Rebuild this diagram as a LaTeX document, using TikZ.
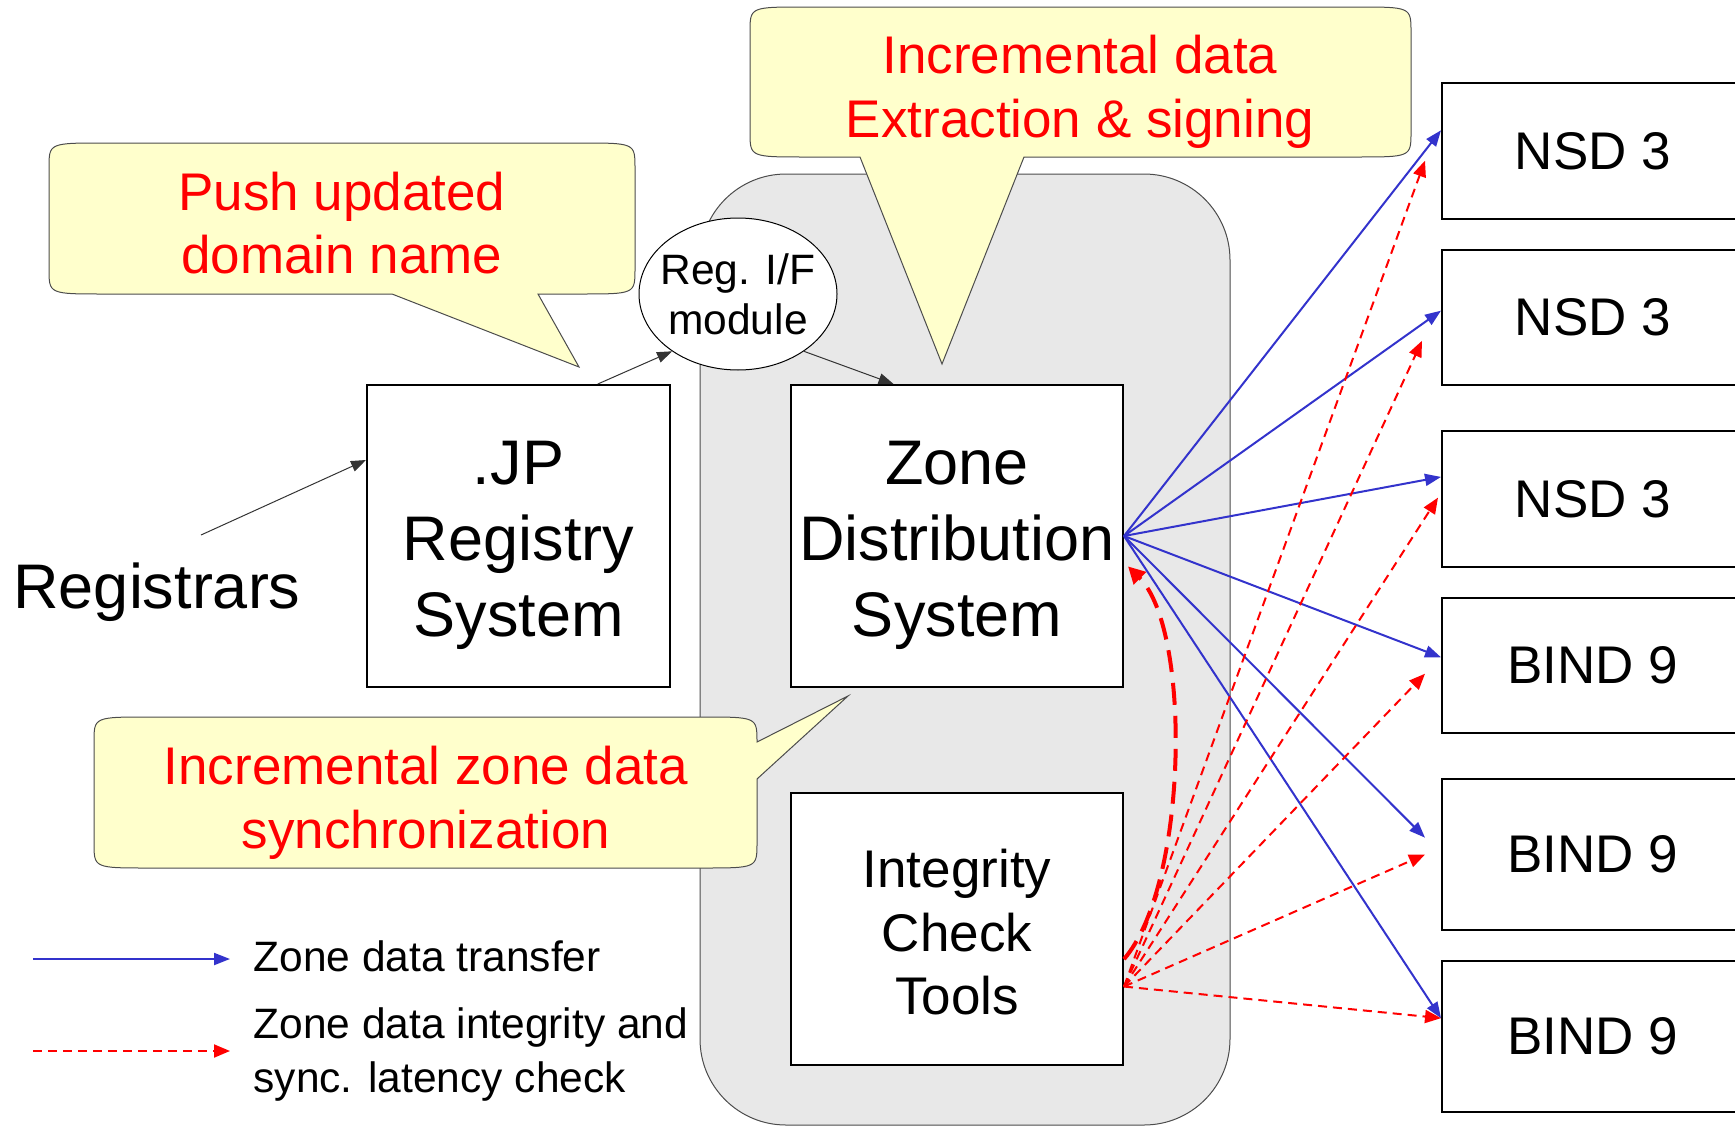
\documentclass[tikz,border=0pt]{standalone}
\usepackage{fontspec}
\setmainfont{Liberation Sans}
\usetikzlibrary{arrows.meta,shapes.geometric,calc}
\definecolor{callfill}{HTML}{FFFFCC}
\definecolor{grayfill}{HTML}{E8E8E8}
\definecolor{bluearr}{HTML}{3333CC}
\definecolor{redtxt}{HTML}{FF0000}
\begin{document}
\begin{tikzpicture}[x=1pt,y=-1pt,
  bigtxt/.style={font=\fontsize{63}{76}\selectfont},
  midtxt/.style={font=\fontsize{53}{63.5}\selectfont},
  smalltxt/.style={font=\fontsize{42.5}{50}\selectfont},
  sysbox/.style={draw=black,line width=2pt,fill=white,inner sep=0pt,align=center},
  srvbox/.style={sysbox,midtxt,anchor=north west,minimum width=302pt},
  callout/.style={fill=callfill,draw=black!70,line width=1pt},
  calltxt/.style={midtxt,text=redtxt,align=center},
  blk/.style={draw=black!80,line width=1pt,-{Triangle[length=15pt,width=11pt]}},
  blu/.style={draw=bluearr,line width=2pt,-{Triangle[length=16pt,width=12pt]}},
  rdd/.style={draw=red,line width=2pt,dash pattern=on 9pt off 6pt,-{Triangle[length=16pt,width=13pt]}},
  rthick/.style={draw=red,line width=4pt,dash pattern=on 22pt off 11pt,-{Triangle[length=17pt,width=17pt]}}
]
\useasboundingbox (0,0) rectangle (1735,1127);
\clip (0,0) rectangle (1735,1127);

% gray system area
\draw[fill=grayfill,draw=black!70,line width=1pt,rounded corners=86pt] (700,174) rectangle (1230,1125);

% callout 1
\path[callout] (805,7) -- (1356,7) .. controls (1411,7) .. (1411,32) -- (1411,132)
  .. controls (1411,157) .. (1356,157) -- (1024,157) -- (942,364) -- (860,157) -- (805,157)
  .. controls (750,157) .. (750,132) -- (750,32) .. controls (750,7) .. (805,7) -- cycle;
\node[calltxt] (c1) at (1080,92) {Incremental data\\Extraction \& signing};

% callout 2
\path[callout] (104,143) -- (580,143) .. controls (635,143) .. (635,168) -- (635,269)
  .. controls (635,294) .. (580,294) -- (538,294) -- (579,367) -- (392,294) -- (104,294)
  .. controls (49,294) .. (49,269) -- (49,168) .. controls (49,143) .. (104,143) -- cycle;
\node[calltxt] (c2) at (342,223) {Push updated\\domain name};

% callout 3
\path[callout] (149,717) -- (702,717) .. controls (757,717) .. (757,742) -- (848,696) -- (757,779)
  -- (757,843) .. controls (757,868) .. (702,868) -- (149,868) .. controls (94,868) .. (94,843)
  -- (94,742) .. controls (94,717) .. (149,717) -- cycle;
\node[calltxt] (c3) at (426,803) {Incremental zone data\\synchronization};

% main boxes
\node[sysbox,bigtxt,minimum width=303pt,minimum height=302pt] (jp) at (518.5,536) {\rule{0pt}{62pt}.JP\\Registry\\System};
\node[sysbox,bigtxt,minimum width=332pt,minimum height=302pt] (zds) at (957,536) {\rule{0pt}{62pt}Zone\\Distribution\\System};
\node[sysbox,midtxt,minimum width=332pt,minimum height=272pt] (ict) at (957,929) {\rule{0pt}{45pt}Integrity\\Check\\Tools};
\node[draw=black,line width=1pt,fill=white,ellipse,minimum width=198pt,minimum height=152pt] (rif) at (738,294) {};
\node[smalltxt,align=center] (riftxt) at (rif.center) {Reg. I/F\\module};
\node[bigtxt] (reg) at (157,592) {Registrars};

% servers
\node[srvbox,minimum height=136pt] (nsdA) at (1441,82) {NSD 3};
\node[srvbox,minimum height=135pt] (nsdB) at (1441,249) {NSD 3};
\node[srvbox,minimum height=136pt] (nsdC) at (1441,430) {NSD 3};
\node[srvbox,minimum height=135pt] (bindA) at (1441,597) {BIND 9};
\node[srvbox,minimum height=151pt] (bindB) at (1441,778) {BIND 9};
\node[srvbox,minimum height=151pt] (bindC) at (1441,960) {BIND 9};

% black arrows
\coordinate (regout) at (201,535);
\draw[blk] (regout) -- ($(jp.north west)!0.25!(jp.south west)$);
\draw[blk] ($(jp.north west)!0.76!(jp.north east)$) -- (rif.221);
\draw[blk] (rif.319) -- ($(zds.north west)!0.31!(zds.north east)$);

% blue transfer arrows
\foreach \n/\f in {nsdA/0.35, nsdB/0.45, nsdC/0.34, bindA/0.44, bindC/0.38}
  \draw[blu] (zds.east) -- ($(\n.north west)!\f!(\n.south west)$);
\draw[blu] (zds.east) -- ($(bindB.north west)!0.39!(bindB.south west)+(-16,0)$);

% red check arrows
\coordinate (rs) at ($(ict.north east)!0.71!(ict.south east)$);
\draw[rdd] (rs) -- ($(nsdA.north west)!0.57!(nsdA.south west)+(-16,0)$);
\draw[rdd] (rs) -- ($(nsdB.north west)!0.67!(nsdB.south west)+(-19,0)$);
\draw[rdd] (rs) -- ($(nsdC.north west)!0.49!(nsdC.south west)+(-3,0)$);
\draw[rdd] (rs) -- ($(bindA.north west)!0.56!(bindA.south west)+(-16,0)$);
\draw[rdd] (rs) -- ($(bindB.north west)!0.50!(bindB.south west)+(-16,0)$);
\draw[rdd] (rs) -- ($(bindC.north west)!0.38!(bindC.south west)$);
\draw[rthick] ($(ict.north east)!0.61!(ict.south east)$) .. controls (1188,885) and (1192,630) .. ($(zds.north east)!0.6!(zds.south east)+(4,0)$);

% legend
\coordinate (l1a) at (33,959); \coordinate (l1b) at (230,959);
\draw[blu] (l1a) -- (l1b);
\coordinate (l2a) at (33,1051); \coordinate (l2b) at (230,1051);
\draw[rdd] (l2a) -- (l2b);
\node[smalltxt,anchor=base west] (leg1) at (250,971) {Zone data transfer};
\node[smalltxt,anchor=base west] (leg2) at (250,1038) {Zone data integrity and};
\node[smalltxt,anchor=base west] (leg3) at (250,1092) {sync. latency check};
\end{tikzpicture}
\end{document}
